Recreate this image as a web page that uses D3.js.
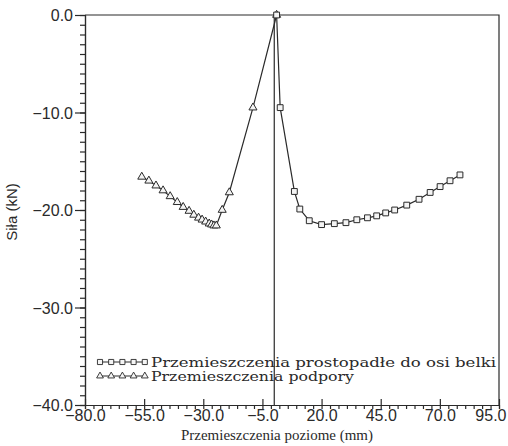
<!DOCTYPE html>
<html>
<head>
<meta charset="utf-8">
<script src="https://cdn.jsdelivr.net/npm/d3@7"></script>
<style>
  body { margin: 0; background: #fff; }
  svg { display: block; }
</style>
</head>
<body>
<div id="chart"></div>
<script>

// axis ticks
var xTicks = [-80, -55, -30, -5, 20, 45, 70, 95];
var yTicks = [0, -10, -20, -30, -40];

// Przemieszczenia prostopadle do osi belki (squares)
var squareX = [1, 2.5, 8.5, 10.8, 14.8, 20.0, 25.4, 30.3, 34.9, 39.4, 43.3, 47.1, 50.9, 56.0, 61.2, 65.9, 70.1, 74.3, 78.5];
var squareY = [0, -9.5, -18.1, -19.9, -21.1, -21.5, -21.4, -21.3, -21.0, -20.8, -20.6, -20.3, -20.0, -19.5, -18.9, -18.2, -17.6, -17.0, -16.4];

// Przemieszczenia podpory (triangles)
var triangleX = [-56, -53, -50, -47, -44, -41, -38.5, -36, -34, -32, -30.5, -29, -27.5, -26.5, -25.5, -24.5, -22, -19, -9, 1];
var triangleY = [-16.6, -17.0, -17.5, -18.0, -18.6, -19.2, -19.7, -20.1, -20.5, -20.8, -21.0, -21.2, -21.4, -21.5, -21.6, -21.6, -20.0, -18.2, -9.5, 0];

var legendLabels = ['Przemieszczenia prostopadłe do osi belki', 'Przemieszczenia podpory'];

var width = 508, height = 446;
var margin = {left: 85, right: 9, top: 15, bottom: 41};
var ink = '#2a2a2a';

var svg = d3.select('#chart')
  .append('svg')
    .attr('width', width)
    .attr('height', height);

var x = d3.scaleLinear().domain([-80, 95]).range([margin.left, width - margin.right]);
var y = d3.scaleLinear().domain([-40, 0]).range([height - margin.bottom, margin.top]);

var fmt = d3.format('.1f');

////////////////////////////
// Axes                   //
////////////////////////////

// minor ticks: 7 per major step on x, 1 kN on y
var xMinor = [];
for (var i = 0; i < xTicks.length - 1; i++) {
  for (var k = 0; k < 7; k++) xMinor.push(xTicks[i] + k * 25 / 7);
}
xMinor.push(95);
var yMinor = d3.range(-40, 0.1, 1);

var gx = svg.append('g')
  .attr('transform', 'translate(0,' + y(-40) + ')');
gx.call(d3.axisBottom(x).tickValues(xMinor).tickSize(4).tickFormat(''));
gx.append('g').call(d3.axisBottom(x).tickValues(xTicks).tickSizeInner(-6).tickSizeOuter(0).tickPadding(5).tickFormat(fmt));

var gy = svg.append('g')
  .attr('transform', 'translate(' + x(-80) + ',0)');
gy.call(d3.axisLeft(y).tickValues(yMinor).tickSize(5).tickFormat(''));
gy.append('g').call(d3.axisLeft(y).tickValues(yTicks).tickSizeInner(10).tickSizeOuter(0).tickPadding(2).tickFormat(fmt));

svg.selectAll('.domain, .tick line').attr('stroke', ink).attr('stroke-width', 1.2);
svg.selectAll('.tick text')
  .attr('fill', ink)
  .style('font-family', '"Liberation Sans", Arial, sans-serif')
  .style('font-size', '16px');
gy.selectAll('.tick text').attr('dy', '0.36em');
// last x label would run off the page
gx.selectAll('.tick text').filter(function(d){ return d === 95; })
  .attr('text-anchor', 'end')
  .attr('dx', 7);

// frame (top and right)
svg.append('path')
  .attr('d', 'M' + x(-80) + ',' + y(0) + 'H' + x(95) + 'V' + y(-40))
  .attr('fill', 'none')
  .attr('stroke', ink)
  .attr('stroke-width', 1.2);

// zero line
svg.append('line')
  .attr('x1', x(0)).attr('x2', x(0))
  .attr('y1', y(0)).attr('y2', y(-40))
  .attr('stroke', ink)
  .attr('stroke-width', 1.2);

////////////////////////////
// Series                 //
////////////////////////////

var squares = squareX.map(function(d, i){ return {x: d, y: squareY[i]}; });
var triangles = triangleX.map(function(d, i){ return {x: d, y: triangleY[i]}; });

var line = d3.line()
  .x(function(d){ return x(d.x); })
  .y(function(d){ return y(d.y); });

[triangles, squares].forEach(function(s){
  svg.append('path')
    .datum(s)
    .attr('d', line)
    .attr('fill', 'none')
    .attr('stroke', ink)
    .attr('stroke-width', 1.2);
});

var squareSym = d3.symbol().type(d3.symbolSquare).size(34);
var triSym = d3.symbol().type(d3.symbolTriangle).size(28);

var drawMarkers = function(data, sym){
  svg.append('g').selectAll('path')
    .data(data)
    .enter().append('path')
      .attr('d', sym)
      .attr('transform', function(d){ return 'translate(' + x(d.x) + ',' + y(d.y) + ')'; })
      .attr('fill', '#f4f4f4')
      .attr('stroke', ink)
      .attr('stroke-width', 1);
};
drawMarkers(triangles, triSym);
drawMarkers(squares, squareSym);

////////////////////////////
// Legend                 //
////////////////////////////

var legendWidths = [345, 203];
var legend = svg.append('g');
[squareSym, triSym].forEach(function(sym, r){
  var ly = 362 + r * 14;
  legend.append('line')
    .attr('x1', 98).attr('x2', 146)
    .attr('y1', ly).attr('y2', ly)
    .attr('stroke', ink);
  d3.range(5).forEach(function(k){
    legend.append('path')
      .attr('d', r === 0 ? d3.symbol().type(d3.symbolSquare).size(26)() : d3.symbol().type(d3.symbolTriangle).size(20)())
      .attr('transform', 'translate(' + (100 + k * 11.2) + ',' + ly + ')')
      .attr('fill', '#f4f4f4')
      .attr('stroke', ink)
      .attr('stroke-width', 0.9);
  });
  legend.append('text')
    .attr('x', 151)
    .attr('y', ly + 5)
    .attr('fill', ink)
    .attr('textLength', legendWidths[r])
    .attr('lengthAdjust', 'spacingAndGlyphs')
    .style('font-family', '"DejaVu Serif", serif')
    .style('font-size', '12.5px')
    .text(legendLabels[r]);
});

////////////////////////////
// Titles                 //
////////////////////////////

svg.append('text')
  .attr('x', 181)
  .attr('y', 440)
  .attr('fill', ink)
  .attr('textLength', 192)
  .attr('lengthAdjust', 'spacingAndGlyphs')
  .style('font-family', '"Liberation Serif", serif')
  .style('font-size', '15.5px')
  .text('Przemieszczenia poziome (mm)');

svg.append('text')
  .attr('transform', 'translate(17,' + 212 + ') rotate(-90)')
  .attr('text-anchor', 'middle')
  .attr('fill', ink)
  .style('font-family', '"Liberation Sans", Arial, sans-serif')
  .style('font-size', '15px')
  .text('Siła (kN)');

</script>
</body>
</html>
